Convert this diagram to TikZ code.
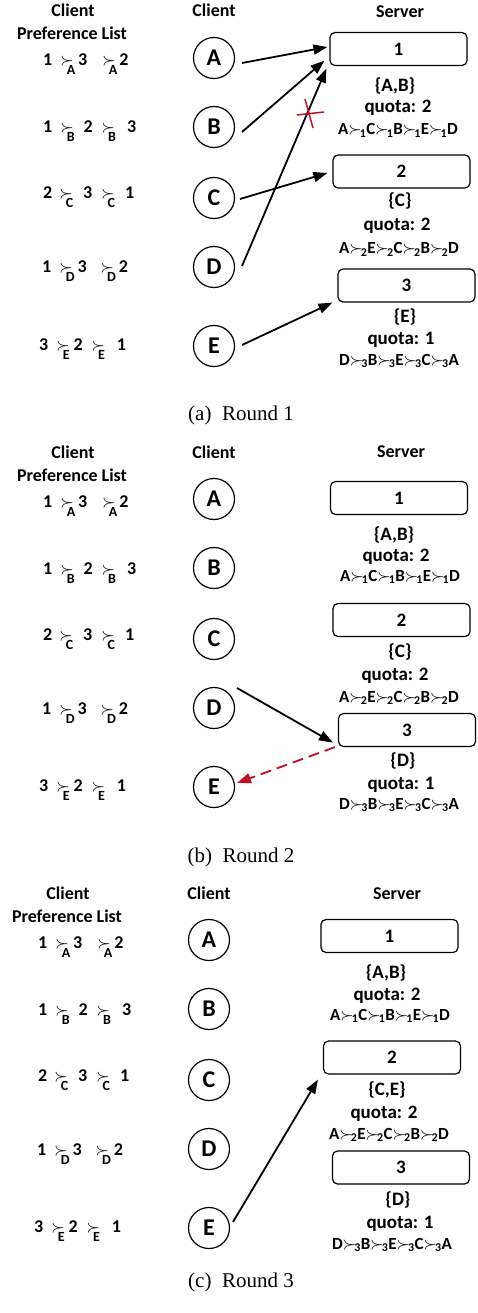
\documentclass[tikz,border=0pt]{standalone}
\usepackage{fontspec}
\usepackage{amsmath}
\setmainfont{Carlito}
\newfontfamily\capfont{Liberation Serif}
\usetikzlibrary{arrows.meta}
\definecolor{crossred}{RGB}{192,16,40}
% server-side preference relation with its owner as subscript
\newcommand{\prefsym}[1]{$\succ_{\kern-2pt\text{#1}}$}
% client-side preference relation, owner set low under the symbol
\newcommand{\cpref}[1]{$\succ$\kern-7pt\raisebox{-9pt}{\fontsize{14}{14}\selectfont #1}}

% client column: headers, preference lists and client circles
\newcommand{\clientcolumn}[3]{%
  \begin{scope}[shift={(#2,#3)}]
    \node[hdr] (#1-ph1) at (73,17) {Client};
    \node[hdr] (#1-ph2) at (72,40) {Preference List};
    \node[hdr] (#1-ch) at (214,17) {Client};
    \node[plist] (#1-pA) at (43,66)
      {1\hspace{8pt}\cpref{A}\hspace{3pt}3\hspace{15pt}\cpref{A}\hspace{2pt}2};
    \node[plist] (#1-pB) at (43,133)
      {1\hspace{8pt}\cpref{B}\hspace{9pt}2\hspace{9pt}\cpref{B}\hspace{11pt}3};
    \node[plist] (#1-pC) at (43,199)
      {2\hspace{7pt}\cpref{C}\hspace{10pt}3\hspace{9pt}\cpref{C}\hspace{10pt}1};
    \node[plist] (#1-pD) at (42,273)
      {1\hspace{8pt}\cpref{D}\hspace{3pt}3\hspace{14pt}\cpref{D}\hspace{3pt}2};
    \node[plist] (#1-pE) at (39,350)
      {3\hspace{8pt}\cpref{E}\hspace{4pt}2\hspace{9pt}\cpref{E}\hspace{12pt}1};
    \node[client] (#1-A) at (214,58)  {A};
    \node[client] (#1-B) at (214,127) {B};
    \node[client] (#1-C) at (214,198) {C};
    \node[client] (#1-D) at (214,267) {D};
    \node[client] (#1-E) at (214,346) {E};
  \end{scope}}

\begin{document}
\begin{tikzpicture}[x=1pt,y=-1pt,
  every node/.style={inner sep=0pt},
  hdr/.style={font=\fontsize{18}{20}\selectfont\bfseries, anchor=base},
  plist/.style={font=\fontsize{18}{20}\selectfont\bfseries, anchor=base west},
  client/.style={circle, draw, line width=1.2pt, minimum size=41pt,
                 font=\fontsize{24}{26}\selectfont\bfseries},
  server/.style={draw, rounded corners=5pt, line width=1.2pt,
                 minimum width=137pt, minimum height=33pt,
                 font=\fontsize{19}{21}\selectfont\bfseries},
  info/.style={font=\fontsize{19}{21}\selectfont\bfseries, anchor=base},
  rank/.style={font=\fontsize{17}{19}\selectfont\bfseries, anchor=base},
  caption/.style={font=\fontsize{21}{23}\selectfont\capfont, anchor=base},
  link/.style={-{Triangle[length=14pt,width=10pt]}, line width=1.8pt},
  reject/.style={-{Triangle[length=14pt,width=10pt]}, line width=1.8pt,
                 crossred, dash pattern=on 11pt off 6pt},
  crossmark/.style={crossred, line width=1.5pt}]

\useasboundingbox (0,0) rectangle (478,1313);

% ---------------- (a) Round 1 ----------------
\clientcolumn{a}{0}{0}
\node[hdr] (a-sh) at (400,17.5) {Server};
\node[server] (a-s1) at (398.5,49) {1};
\node[info] (a-s1m) at (395,92) {\{A,B\}};
\node[info] (a-s1q) at (398,113) {quota: 2};
\node[rank] (a-s1r) at (398,135) {A\prefsym{1}C\prefsym{1}B\prefsym{1}E\prefsym{1}D};
\node[server] (a-s2) at (401.5,171.5) {2};
\node[info] (a-s2m) at (400,207) {\{C\}};
\node[info] (a-s2q) at (397,231) {quota: 2};
\node[rank] (a-s2r) at (399,254) {A\prefsym{2}E\prefsym{2}C\prefsym{2}B\prefsym{2}D};
\node[server] (a-s3) at (406.5,285.5) {3};
\node[info] (a-s3m) at (405,323) {\{E\}};
\node[info] (a-s3q) at (401,344) {quota: 1};
\node[rank] (a-s3r) at (399,365) {D\prefsym{3}B\prefsym{3}E\prefsym{3}C\prefsym{3}A};

\draw[link] ([shift={(28,5)}]a-A.center) -- ([shift={(-2,-2)}]a-s1.west);
\draw[link] ([shift={(28,5)}]a-B.center) -- ([shift={(-5,-5.5)}]a-s1.south west);
\draw[link] ([shift={(26,1)}]a-C.center) -- ([shift={(-5,1.5)}]a-s2.west);
\draw[link] ([shift={(28,-1)}]a-D.center) -- ([shift={(-3,2.5)}]a-s1.south west);
\draw[link] ([shift={(28,-1)}]a-E.center) -- ([shift={(-5,0)}]a-s3.south west);
% rejected proposal of D
\draw[crossmark] (297,115) -- (324,112) (305,99) -- (313,128);

\node[caption] (a-cap) at (241,420) {(a)\ \ Round 1};

% ---------------- (b) Round 2 ----------------
\clientcolumn{b}{0}{441}
\node[hdr] (b-sh) at (401,457) {Server};
\node[server] (b-s1) at (399,498) {1};
\node[info] (b-s1m) at (394,540) {\{A,B\}};
\node[info] (b-s1q) at (396,561) {quota: 2};
\node[rank] (b-s1r) at (400,581) {A\prefsym{1}C\prefsym{1}B\prefsym{1}E\prefsym{1}D};
\node[server] (b-s2) at (401.5,620) {2};
\node[info] (b-s2m) at (400,657) {\{C\}};
\node[info] (b-s2q) at (395,680) {quota: 2};
\node[rank] (b-s2r) at (399,702) {A\prefsym{2}E\prefsym{2}C\prefsym{2}B\prefsym{2}D};
\node[server] (b-s3) at (407,730) {3};
\node[info] (b-s3m) at (403,766) {\{D\}};
\node[info] (b-s3q) at (401,789) {quota: 1};
\node[rank] (b-s3r) at (399,809) {D\prefsym{3}B\prefsym{3}E\prefsym{3}C\prefsym{3}A};

\draw[link] ([shift={(23,-20)}]b-D.center) -- ([shift={(-5,-4.5)}]b-s3.south west);
\draw[reject] ([shift={(-3,0)}]b-s3.south west) -- ([shift={(23,-4)}]b-E.center);

\node[caption] (b-cap) at (241,862) {(b)\ \ Round 2};

% ---------------- (c) Round 3 ----------------
\clientcolumn{c}{-5}{882}
\node[hdr] (c-sh) at (397,899) {Server};
\node[server] (c-s1) at (389.5,936) {1};
\node[info] (c-s1m) at (386,978) {\{A,B\}};
\node[info] (c-s1q) at (387,1000) {quota: 2};
\node[rank] (c-s1r) at (390,1020) {A\prefsym{1}C\prefsym{1}B\prefsym{1}E\prefsym{1}D};
\node[server] (c-s2) at (392,1057.5) {2};
\node[info] (c-s2m) at (387,1095) {\{C,E\}};
\node[info] (c-s2q) at (384,1118) {quota: 2};
\node[rank] (c-s2r) at (389,1139) {A\prefsym{2}E\prefsym{2}C\prefsym{2}B\prefsym{2}D};
\node[server] (c-s3) at (401,1167.5) {3};
\node[info] (c-s3m) at (398,1205) {\{D\}};
\node[info] (c-s3q) at (400,1228) {quota: 1};
\node[rank] (c-s3r) at (392,1249) {D\prefsym{3}B\prefsym{3}E\prefsym{3}C\prefsym{3}A};

\draw[link] ([shift={(24,-6)}]c-E.center) -- ([shift={(-5,5)}]c-s2.south west);

\node[caption] (c-cap) at (241,1287) {(c)\ \ Round 3};
\end{tikzpicture}
\end{document}
